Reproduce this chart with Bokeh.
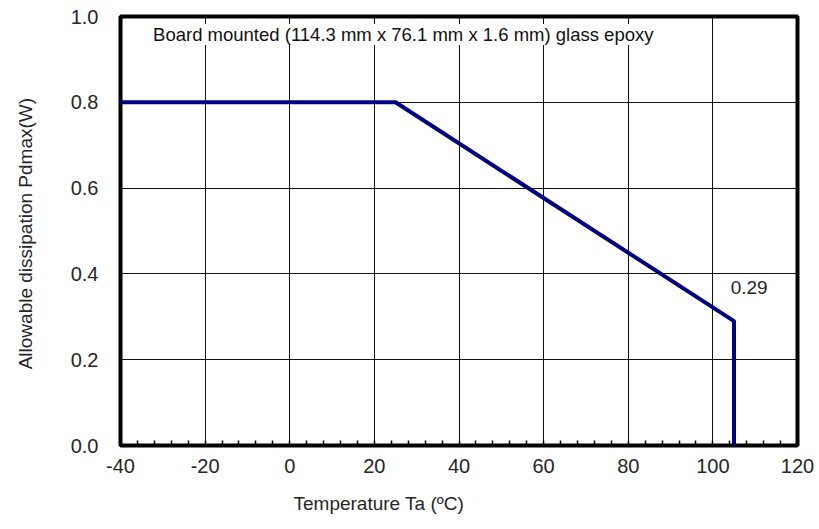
from bokeh.plotting import figure
from bokeh.models import SingleIntervalTicker, Range1d, Label, CustomJSTickFormatter, Title
from bokeh.embed import file_html
from bokeh.resources import INLINE

# Data
temps = [-40, 25, 105, 105]
pdmax = [0.8, 0.8, 0.29, 0.0]
x_ticks = [-40, -20, 0, 20, 40, 60, 80, 100, 120]
y_ticks = [0.0, 0.2, 0.4, 0.6, 0.8, 1.0]
note = "Board mounted (114.3 mm x 76.1 mm x 1.6 mm) glass epoxy"
end_label = "0.29"
x_title = "Temperature  Ta (ºC)"
y_title = "Allowable  dissipation Pdmax(W)"

FONT = "Liberation Sans"
TXT = "#262626"

p = figure(width=819, height=529, output_backend="svg", toolbar_location=None,
           x_range=Range1d(-40, 120), y_range=Range1d(0, 1.0),
           min_border_left=120, min_border_right=22, min_border_top=16, min_border_bottom=84)

p.line(temps, pdmax, line_color="#000080", line_width=4)

p.outline_line_color = "black"
p.outline_line_width = 4

xt = SingleIntervalTicker(interval=20, num_minor_ticks=5)
yt = SingleIntervalTicker(interval=0.2, num_minor_ticks=0)
p.xaxis.ticker = xt
p.yaxis.ticker = yt
p.xaxis.formatter = CustomJSTickFormatter(code="return tick.toFixed(0);")
p.yaxis.formatter = CustomJSTickFormatter(code="return tick.toFixed(1);")

for ax in (p.xaxis[0], p.yaxis[0]):
    ax.axis_line_color = None
    ax.major_tick_in = 0
    ax.major_tick_out = 0
    ax.major_label_text_font = FONT
    ax.major_label_text_font_size = "20px"
    ax.major_label_text_color = TXT
    ax.axis_label_text_font = FONT
    ax.axis_label_text_font_size = "19px"
    ax.axis_label_text_font_style = "normal"
    ax.axis_label_text_color = TXT

p.xaxis.minor_tick_in = 5
p.xaxis.minor_tick_out = 0
p.xaxis.minor_tick_line_color = "black"
p.xaxis.minor_tick_line_width = 1.5
p.yaxis.minor_tick_line_color = None
p.xaxis.major_label_standoff = 13
p.yaxis.major_label_standoff = 22
p.yaxis.axis_label = y_title
p.yaxis.axis_label_standoff = 32

p.xgrid.ticker = xt
p.ygrid.ticker = yt
p.xgrid.grid_line_color = "#111111"
p.ygrid.grid_line_color = "#111111"
p.xgrid.grid_line_width = 1
p.ygrid.grid_line_width = 1

p.add_layout(Label(x=-32.3, y=0.958, text=note, text_font=FONT, text_font_size="18.5px",
                   text_baseline="middle", text_color="#111111",
                   background_fill_color="white"))
p.add_layout(Label(x=104.2, y=0.368, text=end_label, text_font=FONT, text_font_size="19px",
                   text_baseline="middle", text_color=TXT))

xtitle = Title(text=x_title, align="left", offset=173, standoff=31,
               text_font=FONT, text_font_size="19px", text_font_style="normal",
               text_color=TXT)
p.add_layout(xtitle, "below")

open("out.html", "w").write(file_html(p, INLINE))
